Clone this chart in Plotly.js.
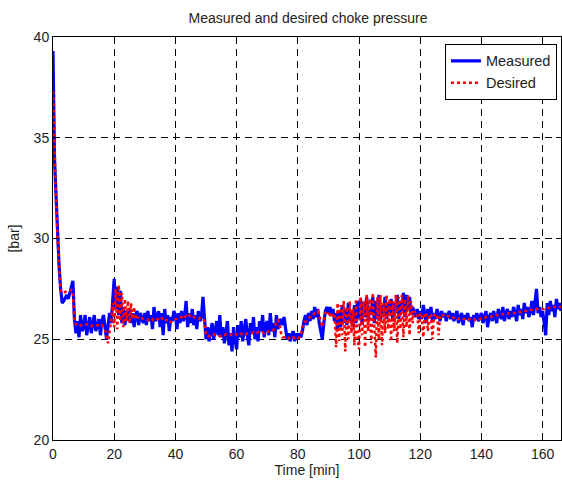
<!DOCTYPE html>
<html>
<head>
<meta charset="utf-8">
<script src="https://cdn.plot.ly/plotly-3.0.1.min.js"></script>
<style>html,body{margin:0;padding:0;background:#fff;}#chart{width:562px;height:482px;}</style>
</head>
<body>
<div id="chart"></div>
<script>
// sampling step of the logged signals [min]
const sampleStepMin = 0.5;

// Measured choke pressure [bar], one value every 0.5 min from t = 0
const measuredBar = [
  39.3,33.9,32.1,30.2,28.6,27.5,26.8,26.9,27.1,27.2,27.0,27.3,27.5,27.9,26.0,25.3,25.9,25.1,26.2,25.4,
  25.6,26.2,25.2,25.8,26.1,25.3,25.9,26.2,25.4,25.8,26.0,25.2,25.9,26.2,25.5,25.0,25.7,26.3,25.8,27.0,
  28.0,26.5,27.6,26.2,27.4,25.8,26.6,25.7,26.4,25.9,26.5,25.8,26.3,25.6,26.2,26.4,25.7,26.3,26.1,25.8,
  26.3,25.7,26.4,25.9,26.2,25.5,26.6,25.9,26.1,26.4,25.6,26.3,25.2,26.5,25.8,26.2,25.4,26.1,25.9,26.4,
  26.2,25.5,26.3,25.8,26.4,25.9,26.1,26.9,25.6,26.3,25.8,26.5,25.7,26.2,25.5,26.4,25.9,26.1,27.1,25.8,
  25.0,25.6,24.9,25.4,25.8,25.0,25.5,25.9,25.2,26.2,25.1,25.6,24.8,25.5,25.9,24.7,25.3,24.4,25.6,25.0,
  24.5,25.7,25.1,25.9,24.9,25.5,26.0,25.2,24.7,25.8,25.3,26.1,25.0,25.6,24.9,25.9,25.4,26.2,25.1,25.7,
  25.9,25.2,26.3,25.4,25.8,25.1,26.2,25.5,25.9,26.0,25.7,26.1,25.6,25.0,25.3,24.9,25.2,25.4,24.9,25.3,
  25.0,25.3,25.1,25.4,25.9,26.2,25.7,26.3,25.9,26.4,26.0,26.6,26.1,26.5,25.8,25.3,25.0,25.8,26.4,26.6,
  26.3,26.6,26.2,26.5,25.9,26.3,25.5,26.4,25.6,26.7,25.8,26.5,25.7,26.8,25.9,26.4,25.6,26.7,25.8,26.9,
  26.0,27.0,25.7,26.8,26.1,27.1,25.9,26.6,26.2,27.1,25.8,26.9,26.0,27.2,25.9,26.7,26.3,27.1,26.0,26.8,
  26.2,27.0,25.9,26.8,26.3,27.2,26.0,26.9,26.4,27.3,26.1,27.2,26.5,27.1,26.2,26.6,26.3,26.1,26.5,26.0,
  26.4,26.0,26.7,26.2,25.8,26.5,26.1,26.6,25.9,26.3,26.0,26.5,26.2,25.9,26.4,26.1,26.3,25.9,26.2,26.4,
  26.0,26.3,25.9,26.2,26.4,25.8,26.1,26.3,25.7,26.2,26.0,26.3,25.9,26.1,25.6,26.2,26.0,26.3,25.9,26.1,
  26.3,25.8,26.2,26.4,25.6,26.1,26.3,25.9,26.4,26.1,25.8,26.5,26.2,26.0,26.6,25.9,26.3,26.5,26.0,26.4,
  26.1,26.6,26.3,25.9,26.7,26.2,26.5,26.0,26.8,26.3,26.6,26.1,26.4,26.9,26.2,27.0,27.5,26.3,26.6,26.1,
  26.4,25.8,25.2,26.8,26.2,26.9,26.4,26.7,26.1,27.0,26.5,26.8,26.4
];

// Desired choke pressure [bar], same sampling
const desiredBar = [
  37.3,33.8,32.0,30.0,28.5,27.4,27.3,27.3,27.35,27.4,27.4,27.4,27.45,27.3,25.8,25.75,25.7,25.75,25.7,25.7,
  25.7,25.7,25.75,25.7,25.7,25.65,25.7,25.7,25.7,25.7,25.7,25.65,25.7,25.6,25.5,25.1,24.8,25.4,25.9,26.8,
  25.6,27.5,25.5,27.7,25.9,27.3,25.6,27.0,25.9,26.9,25.8,26.8,26.0,26.6,26.0,26.1,26.0,26.0,26.05,26.0,
  26.0,26.0,25.95,26.0,26.05,26.0,25.9,25.95,26.0,26.0,26.1,26.05,26.0,25.9,25.95,26.0,25.9,25.85,25.9,25.95,
  26.0,26.0,26.05,26.1,26.1,26.0,26.1,26.15,26.1,26.2,26.1,26.05,26.1,26.05,26.0,26.0,26.05,26.0,26.0,25.9,
  25.2,25.2,25.15,25.2,25.2,25.25,25.2,25.2,25.2,25.15,25.2,25.2,25.2,25.25,25.2,25.2,25.2,25.25,25.2,25.2,
  25.25,25.25,25.3,25.25,25.3,25.3,25.25,25.3,25.3,25.3,25.3,25.35,25.3,25.3,25.35,25.3,25.35,25.35,25.3,25.35,
  25.35,25.4,25.4,25.4,25.45,25.6,25.9,25.95,25.8,25.3,25.1,25.1,25.05,25.1,25.05,25.1,25.05,25.1,25.05,25.1,
  25.05,25.1,25.2,25.6,25.8,25.9,26.0,26.05,26.1,26.2,26.2,26.3,26.35,26.4,26.2,25.9,25.6,26.0,26.3,26.4,
  26.3,26.2,26.3,26.1,26.2,24.6,26.8,24.9,26.7,25.2,26.9,24.4,26.6,25.0,26.9,25.3,26.5,24.7,27.0,25.1,
  24.5,27.1,25.2,26.9,24.6,27.2,25.4,27.0,24.8,27.3,25.6,24.1,27.1,25.0,27.2,24.7,26.8,25.3,27.2,25.5,
  27.0,24.9,26.9,25.4,27.2,24.8,27.1,25.5,27.2,25.1,27.0,25.6,27.2,25.2,26.9,25.8,26.4,26.3,26.3,25.3,
  26.3,26.2,25.1,26.3,26.3,25.4,26.25,26.2,25.0,26.2,26.2,26.25,25.2,26.2,26.15,26.2,26.15,26.1,26.15,26.1,
  26.1,26.1,26.05,26.1,26.05,26.0,26.05,26.0,26.0,26.0,25.95,26.0,26.0,25.95,26.0,26.0,25.95,26.0,26.0,26.0,
  26.05,26.05,26.05,26.1,26.1,26.1,26.1,26.15,26.15,26.15,26.2,26.2,26.2,26.2,26.25,26.25,26.25,26.25,26.3,26.3,
  26.3,26.3,26.3,26.35,26.35,26.35,26.35,26.4,26.4,26.4,26.4,26.4,26.45,26.45,26.45,26.45,26.5,26.5,26.5,26.5,
  26.5,26.5,26.55,26.55,26.55,26.55,26.55,26.6,26.6,26.6,26.6,26.6,26.6
];

const seriesNames = ['Measured', 'Desired'];
const chartTitle = 'Measured and desired choke pressure';
const xTitle = 'Time [min]';
const yTitle = '[bar]';

const timeMin = measuredBar.map((_, i) => i * sampleStepMin);

const FONT = '"Liberation Sans", Arial, sans-serif';

const traces = [
  {x: timeMin, y: measuredBar, name: seriesNames[0], type: 'scatter', mode: 'lines',
   line: {color: '#0000ff', width: 3.2}},
  {x: timeMin, y: desiredBar, name: seriesNames[1], type: 'scatter', mode: 'lines',
   line: {color: '#ff0000', width: 2.5, dash: 'dot'}}
];

const axisCommon = {
  showline: true, linecolor: '#000', linewidth: 1, mirror: 'ticks',
  ticks: 'inside', ticklen: 5, tickcolor: '#000', tickwidth: 1,
  showgrid: true, gridcolor: '#000', gridwidth: 1, griddash: '7px,5px',
  zeroline: false, tickfont: {family: FONT, size: 14, color: '#222'}
};

const layout = {
  width: 562, height: 482,
  margin: {l: 53, r: 1, t: 37, b: 42},
  paper_bgcolor: '#fff', plot_bgcolor: '#fff',
  showlegend: true,
  title: {text: chartTitle, font: {family: FONT, size: 14, color: '#222'}, x: 0.548, xanchor: 'center', y: 0.963, yanchor: 'middle'},
  xaxis: Object.assign({}, axisCommon, {range: [0, 166], tickvals: [0,20,40,60,80,100,120,140,160], ticklabelstandoff: 1,
    title: {text: xTitle, font: {family: FONT, size: 14, color: '#222'}, standoff: 4}}),
  yaxis: Object.assign({}, axisCommon, {range: [20, 40], tickvals: [20,25,30,35,40],
    title: {text: yTitle, font: {family: FONT, size: 14, color: '#222'}, standoff: 10}}),
  legend: {x: 0.992, xanchor: 'right', y: 0.983, yanchor: 'top', bgcolor: '#fff',
    bordercolor: '#000', borderwidth: 1, font: {family: FONT, size: 14.5, color: '#222'},
    tracegroupgap: 0}
};

Plotly.newPlot('chart', traces, layout, {displayModeBar: false, staticPlot: true});
</script>
</body>
</html>
